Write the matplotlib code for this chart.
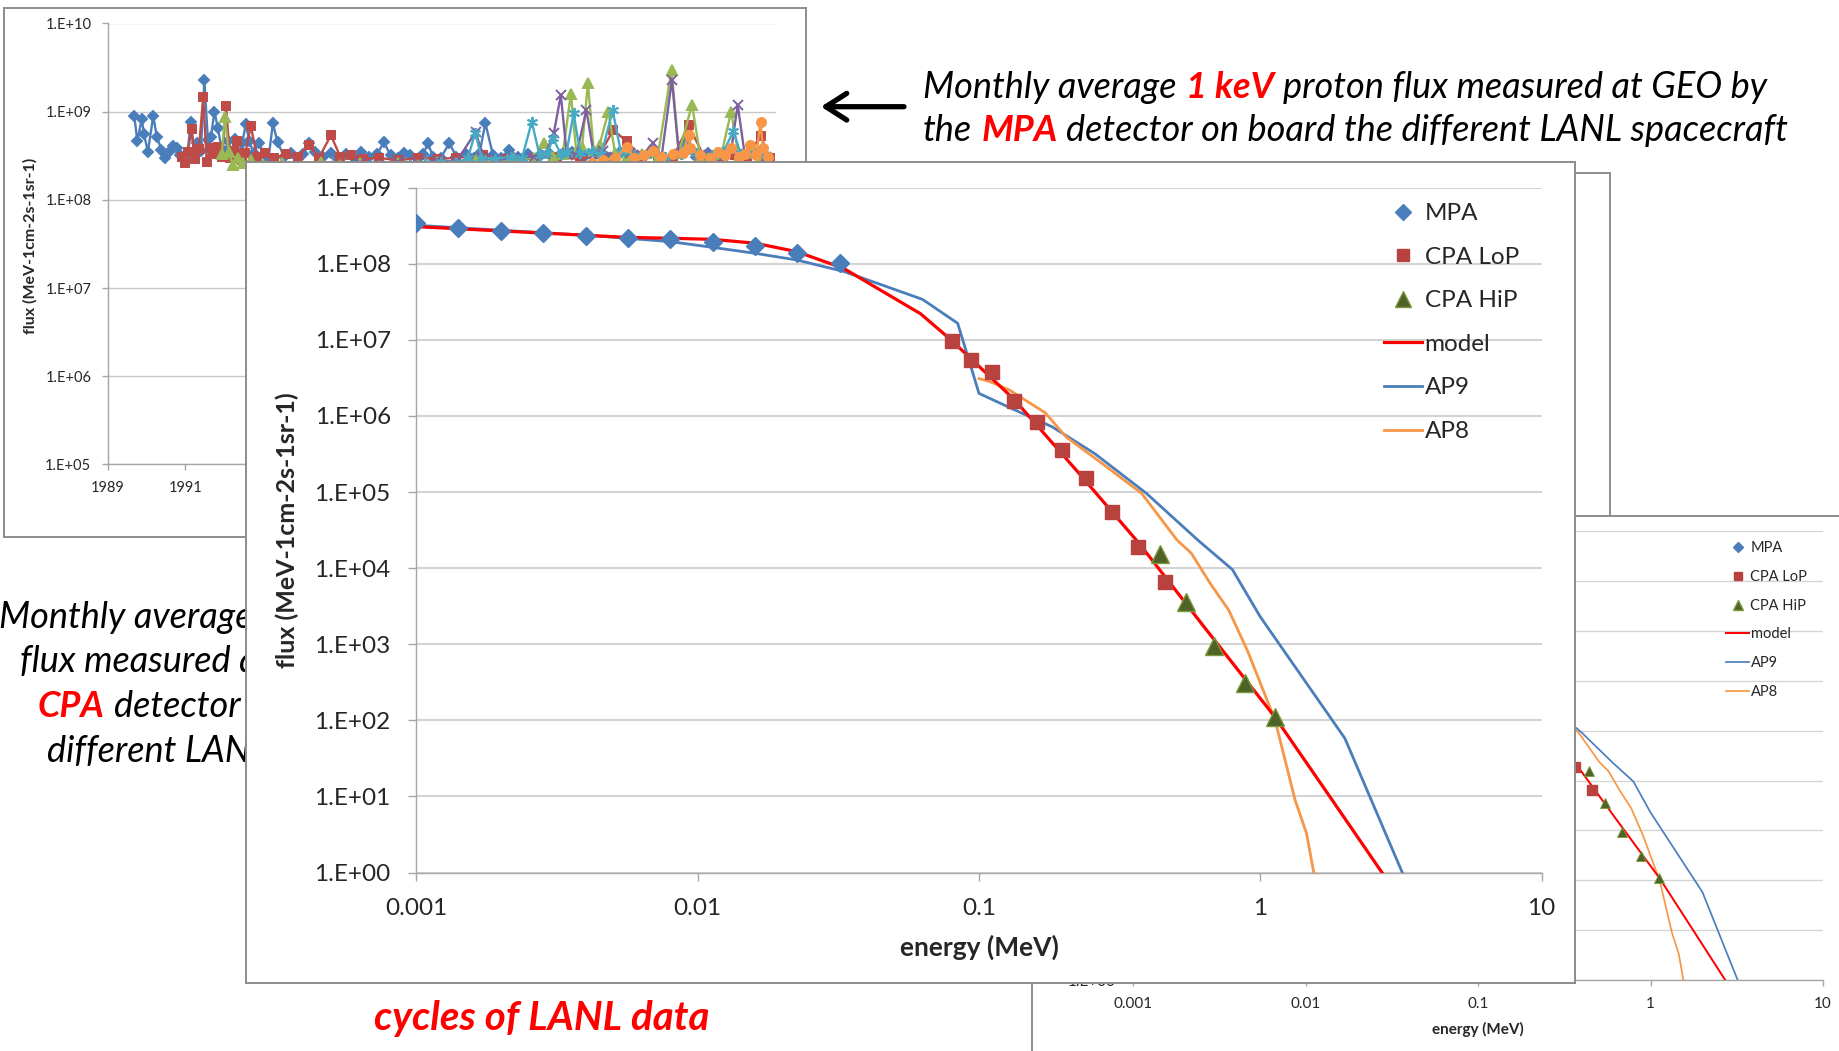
import matplotlib
matplotlib.use("Agg")
import matplotlib.pyplot as plt
from matplotlib.lines import Line2D
from matplotlib.text import Annotation
from matplotlib.ticker import NullLocator

############# CANVAS ###############
W, H = 1839, 1051
DPI = 100
OUTPUT_PATH = "out.png"
####################################

############# PALETTE ###############
BLUE = "#4A7EBB"
BROWN = "#B9413E"
OLIVE = "#4F6228"
OLIVE_EDGE = "#7A9A3A"
RED = "#FF0000"
ORANGE = "#F79646"
GRID = "#D4D4D4"
FRAME_GRAY = "#8C8C8C"
AXIS_GRAY = "#A6A6A6"
TXT = "#262626"
TS_COLORS = ["#4A7EBB", "#BE4B48", "#98B954", "#7D60A0", "#46AAC5", "#F79646"]
#####################################

# ---------------- spectrum data (energy MeV, flux) ----------------
MPA_E = [0.001, 0.00141, 0.002, 0.00283, 0.004, 0.00566, 0.008, 0.0113, 0.016, 0.0226, 0.032]
MPA_F = [3.4e8, 2.92e8, 2.69e8, 2.51e8, 2.31e8, 2.16e8, 2.11e8, 1.95e8, 1.71e8, 1.37e8, 1.01e8]

LOP_E = [0.080, 0.094, 0.111, 0.133, 0.161, 0.197, 0.240, 0.296, 0.367, 0.459]
LOP_F = [9.7e6, 5.4e6, 3.8e6, 1.58e6, 8.4e5, 3.6e5, 1.54e5, 5.4e4, 1.9e4, 6.6e3]

HIP_E = [0.441, 0.546, 0.686, 0.886, 1.127]
HIP_F = [1.53e4, 3.6e3, 946, 306, 111]

MODEL_E = [0.001, 0.0056, 0.008, 0.0113, 0.016, 0.0225, 0.033, 0.062, 0.0795,
           0.134, 0.224, 0.372, 0.631, 1.127, 1.78, 2.71]
MODEL_F = [3.07e8, 2.22e8, 2.16e8, 2.09e8, 1.86e8, 1.44e8, 8.7e7, 2.2e7, 1.0e7,
           1.62e6, 1.86e5, 2.09e4, 1.7e3, 111, 9.6, 1.0]

AP9_E = [0.001, 0.004, 0.008, 0.0113, 0.016, 0.0225, 0.0333, 0.063, 0.084, 0.0937,
         0.1, 0.134, 0.182, 0.258, 0.394, 0.603, 0.796, 1.0, 2.0, 3.2]
AP9_F = [3.2e8, 2.37e8, 1.95e8, 1.64e8, 1.37e8, 1.12e8, 7.85e7, 3.4e7, 1.65e7, 4.4e6,
         1.98e6, 1.2e6, 7.2e5, 3.2e5, 9.6e4, 2.3e4, 9.6e3, 2.3e3, 58, 1.0]

AP8_E = [0.1, 0.11, 0.128, 0.172, 0.204, 0.273, 0.379, 0.506, 0.569, 0.664,
         0.773, 0.9, 1.13, 1.33, 1.46, 1.55]
AP8_F = [3.1e6, 2.8e6, 2.2e6, 1.1e6, 5.3e5, 2.4e5, 9.6e4, 2.34e4, 1.57e4, 6.3e3,
         2.8e3, 830, 100, 9.0, 3.3, 1.0]

LEGEND_LABELS = ["MPA", "CPA LoP", "CPA HiP", "model", "AP9", "AP8"]
E_TICKS = [0.001, 0.01, 0.1, 1, 10]
E_TICK_LABELS = ["0.001", "0.01", "0.1", "1", "10"]

# ---------------- monthly 1 keV flux time series (x1e8) ----------------
S1_YEARS = [1989.68, 1989.76, 1989.87, 1989.93, 1990.03, 1990.17, 1990.26, 1990.38, 1990.47, 1990.58,
            1990.67, 1990.77, 1990.87, 1990.96, 1991.05, 1991.14, 1991.22, 1991.31, 1991.40, 1991.49,
            1991.58, 1991.66, 1991.75, 1991.84, 1991.93, 1992.02, 1992.11, 1992.20, 1992.29, 1992.38,
            1992.47, 1992.56, 1992.65, 1992.76, 1992.90, 1993.05, 1993.15, 1993.26, 1993.38, 1993.55,
            1993.72, 1993.90, 1994.05, 1994.19, 1994.35, 1994.55, 1994.75, 1994.95, 1995.15, 1995.35,
            1995.55, 1995.75, 1995.95, 1996.13, 1996.30, 1996.50, 1996.65, 1996.80, 1997.00, 1997.15,
            1997.26, 1997.40, 1997.60, 1997.82, 1998.00, 1998.25, 1998.45, 1998.60, 1998.75, 1998.95,
            1999.15, 1999.36, 1999.60, 1999.85, 2000.10, 2000.40, 2000.70, 2001.00, 2001.30, 2001.60,
            2001.90, 2002.20, 2002.50, 2002.80, 2003.10, 2003.40, 2003.70, 2003.90, 2004.20, 2004.50,
            2004.80, 2005.10, 2005.40, 2005.70, 2006.00]
S1_FLUX = [8.9, 4.6, 8.3, 5.6, 3.5, 9.0, 5.2, 3.7, 3.0, 3.5,
           4.1, 3.9, 3.2, 2.9, 3.3, 7.6, 3.4, 4.4, 3.6, 23.0,
           4.8, 5.2, 10.0, 6.5, 3.9, 3.4, 4.6, 3.3, 4.9, 3.2,
           4.4, 7.3, 4.6, 3.4, 4.4, 3.2, 3.0, 7.4, 4.5, 3.1,
           3.4, 3.0, 3.3, 4.4, 3.5, 3.1, 3.4, 2.9, 3.3, 3.0,
           3.5, 3.1, 3.3, 4.5, 3.2, 3.0, 3.4, 3.2, 2.9, 3.3,
           4.4, 3.1, 3.0, 4.4, 3.1, 3.3, 3.0, 3.4, 7.4, 3.2,
           3.0, 3.7, 3.1, 3.3, 3.0, 3.4, 3.2, 3.5, 3.1, 3.3,
           3.0, 3.4, 3.2, 3.1, 3.5, 3.0, 3.3, 4.5, 3.1, 3.4,
           3.0, 3.3, 3.1, 3.4, 3.0]

S2_YEARS = [1990.90, 1990.98, 1991.06, 1991.16, 1991.25, 1991.35, 1991.46, 1991.55, 1991.65, 1991.75,
            1991.85, 1991.95, 1992.05, 1992.15, 1992.25, 1992.33, 1992.45, 1992.55, 1992.69, 1992.85,
            1993.05, 1993.30, 1993.60, 1993.90, 1994.19, 1994.45, 1994.76, 1995.00, 1995.27, 1995.60,
            1996.00, 1996.50, 1997.00, 1997.50, 1998.00, 1998.70, 1999.30, 2000.00, 2000.60, 2001.20,
            2001.70, 2002.06, 2002.40, 2002.80, 2003.20, 2003.60, 2004.00, 2004.40, 2004.80, 2005.20,
            2005.50, 2005.86, 2006.10]
S2_FLUX = [3.1, 2.6, 3.5, 6.3, 2.9, 3.8, 14.8, 2.7, 3.9, 3.3,
           4.0, 3.1, 11.6, 3.0, 3.6, 4.6, 2.8, 3.4, 6.9, 3.1,
           3.4, 3.0, 3.3, 3.1, 4.2, 3.0, 5.4, 3.1, 3.2, 2.9,
           3.0, 2.8, 3.0, 2.9, 3.0, 3.2, 2.9, 3.0, 3.1, 2.9,
           3.3, 6.2, 4.6, 3.0, 3.1, 3.0, 7.0, 3.1, 3.0, 3.2,
           3.0, 5.3, 3.0]

S3_YEARS = [1991.94, 1992.02, 1992.12, 1992.22, 1992.35, 1992.50, 1992.70, 1993.00, 1993.50, 1994.00,
            1994.50, 1995.00, 1995.50, 1996.00, 1996.50, 1997.00, 1997.50, 1998.00, 1998.50, 1999.00,
            1999.50, 2000.00, 2000.27, 2000.50, 2000.75, 2000.96, 2001.10, 2001.25, 2001.40, 2001.55,
            2001.70, 2001.93, 2002.10, 2002.40, 2002.80, 2003.20, 2003.56, 2003.75, 2004.09, 2004.30,
            2004.60, 2004.85, 2005.10, 2005.30, 2005.60, 2005.90]
S3_FLUX = [3.3, 8.8, 3.5, 2.5, 3.0, 2.6, 2.8, 2.5, 2.6, 2.4,
           2.7, 2.5, 2.6, 2.4, 2.6, 2.5, 2.7, 2.6, 2.8, 2.7,
           2.9, 3.0, 4.4, 3.1, 3.3, 16.0, 3.5, 4.0, 21.0, 3.6,
           4.2, 10.0, 3.4, 3.1, 3.3, 3.0, 30.0, 3.4, 12.0, 3.2,
           3.0, 3.3, 10.0, 3.1, 3.4, 3.0]

S4_YEARS = [1994.90, 1995.50, 1996.00, 1996.50, 1997.00, 1997.50, 1998.00, 1998.50, 1998.70, 1999.00,
            1999.50, 2000.00, 2000.30, 2000.52, 2000.70, 2000.85, 2001.10, 2001.36, 2001.55, 2001.80,
            2002.10, 2002.50, 2002.80, 2003.09, 2003.30, 2003.57, 2003.75, 2004.00, 2004.30, 2004.60,
            2004.90, 2005.10, 2005.27, 2005.45, 2005.70, 2006.00]
S4_FLUX = [2.4, 2.6, 2.5, 2.7, 2.6, 2.8, 2.7, 5.9, 3.0, 2.8,
           3.0, 3.1, 3.3, 5.7, 15.5, 3.4, 3.2, 10.4, 3.3, 3.6,
           3.1, 3.4, 3.2, 4.4, 3.0, 23.0, 3.3, 3.5, 3.2, 3.4,
           3.1, 3.6, 12.0, 3.3, 3.5, 3.1]

S5_YEARS = [1996.80, 1997.20, 1997.60, 1998.00, 1998.30, 1998.49, 1998.65, 1999.00, 1999.40, 1999.70,
            1999.95, 2000.15, 2000.35, 2000.50, 2000.70, 2000.85, 2001.03, 2001.20, 2001.50, 2001.75,
            2002.04, 2002.25, 2002.60, 2003.00, 2003.40, 2003.80, 2004.20, 2004.60, 2004.90, 2005.16,
            2005.35, 2005.70, 2006.00]
S5_FLUX = [2.5, 2.6, 2.7, 2.6, 3.0, 5.8, 3.0, 2.9, 3.1, 3.0,
           7.7, 3.2, 3.4, 5.0, 3.3, 3.5, 9.6, 3.4, 3.6, 3.3,
           10.4, 3.5, 3.2, 3.4, 3.1, 3.3, 3.4, 3.2, 3.5, 6.0,
           3.3, 3.4, 3.2]

S6_YEARS = [2001.50, 2001.80, 2002.10, 2002.40, 2002.60, 2002.85, 2003.07, 2003.30, 2003.60, 2003.85,
            2004.00, 2004.03, 2004.30, 2004.55, 2004.77, 2004.95, 2005.10, 2005.30, 2005.45, 2005.60,
            2005.75, 2005.86, 2005.92, 2006.05]
S6_FLUX = [2.6, 2.8, 3.0, 4.0, 3.0, 3.2, 3.6, 3.1, 3.3, 3.4,
           5.5, 3.9, 3.2, 3.0, 3.5, 3.2, 3.9, 3.1, 3.3, 4.2,
           3.2, 7.7, 3.9, 3.1]

YEAR_TICKS = [1989, 1991, 1993, 1995, 1997, 1999, 2001, 2003, 2005]
YEAR_LABELS = ["1989", "1991", "", "", "", "", "", "", ""]  # the rest sit behind the front chart

plt.rcParams["font.family"] = ["Lato", "DejaVu Sans"]


def px_rect(x0, y0, x1, y1):
    return [x0 / W, 1 - y1 / H, (x1 - x0) / W, (y1 - y0) / H]


def add_frame(fig, x0, y0, x1, y1, z):
    ax = fig.add_axes(px_rect(x0, y0, x1, y1), zorder=z)
    ax.set_xticks([])
    ax.set_yticks([])
    ax.set_facecolor("white")
    for s in ax.spines.values():
        s.set_color(FRAME_GRAY)
        s.set_linewidth(1.4)
    return ax


def style_axes(ax, tick_fs, pad, tlen):
    for side in ("top", "right"):
        ax.spines[side].set_visible(False)
    for side in ("left", "bottom"):
        ax.spines[side].set_color(AXIS_GRAY)
        ax.spines[side].set_linewidth(1.0)
    ax.tick_params(axis="both", which="major", direction="out", length=tlen, width=1.0,
                   color=AXIS_GRAY, labelsize=tick_fs, labelcolor=TXT, pad=pad)
    ax.set_facecolor("none")
    ax.set_axisbelow(True)


def draw_spectrum(ax, k, tick_fs, pad, tlen, leg_fs, leg_anchor, leg_spacing, leg_hlen, label_fs, label_pos):
    ax.set_xscale("log")
    ax.set_yscale("log")

    ax.plot(MODEL_E, MODEL_F, color=RED, lw=2.3 * k, zorder=3)
    ax.plot(AP9_E, AP9_F, color=BLUE, lw=2.0 * k, zorder=2)
    ax.plot(AP8_E, AP8_F, color=ORANGE, lw=2.0 * k, zorder=2)
    ax.plot(MPA_E, MPA_F, ls="none", marker="D", ms=9.5 * k, color=BLUE, zorder=4)
    ax.plot(LOP_E, LOP_F, ls="none", marker="s", ms=10.5 * k, color=BROWN, zorder=4)
    ax.plot(HIP_E, HIP_F, ls="none", marker="^", ms=12.5 * k, mfc=OLIVE, mec=OLIVE_EDGE,
            mew=1.0 * k, zorder=4)

    ax.set_xlim(1e-3, 10)
    ax.set_ylim(1, 1e9)
    ax.set_xticks(E_TICKS, labels=E_TICK_LABELS)
    ax.set_yticks([10 ** p for p in range(10)], labels=[f"1.E+{p:02d}" for p in range(10)])
    ax.xaxis.set_minor_locator(NullLocator())
    ax.yaxis.set_minor_locator(NullLocator())
    ax.grid(True, axis="y", which="major", color=GRID, lw=1.5 * k)
    style_axes(ax, tick_fs, pad, tlen)

    handles = [
        Line2D([], [], ls="none", marker="D", ms=8.5 * k, color=BLUE),
        Line2D([], [], ls="none", marker="s", ms=9.0 * k, color=BROWN),
        Line2D([], [], ls="none", marker="^", ms=11.0 * k, mfc=OLIVE, mec=OLIVE_EDGE),
        Line2D([], [], color=RED, lw=2.3 * k),
        Line2D([], [], color=BLUE, lw=2.0 * k),
        Line2D([], [], color=ORANGE, lw=2.0 * k),
    ]
    ax.legend(handles, LEGEND_LABELS, loc="upper left",
              bbox_to_anchor=(leg_anchor[0] / W, 1 - leg_anchor[1] / H),
              bbox_transform=ax.figure.transFigure, frameon=False, borderpad=0,
              borderaxespad=0, fontsize=leg_fs, labelspacing=leg_spacing,
              handlelength=leg_hlen, handletextpad=0.1, numpoints=1,
              labelcolor=TXT)

    ax.set_xlabel("energy (MeV)", fontsize=label_fs, fontweight="bold", color=TXT, va="center")
    ax.xaxis.set_label_coords(*label_pos)


def rich_line(fig, x, y, parts, size, z=3):
    # parts: (text, color, bold, gap_before_pt)
    prev = None
    for text, color, bold, gap in parts:
        kw = dict(fontsize=size, style="italic", color=color,
                  fontweight="bold" if bold else "normal", zorder=z)
        if prev is None:
            t = fig.text(x / W, 1 - y / H, text, ha="left", va="baseline", **kw)
        else:
            t = Annotation(text, xy=(1, 0), xycoords=prev, xytext=(gap, 0),
                           textcoords="offset points", ha="left", va="bottom", **kw)
            fig.add_artist(t)
        prev = t
    return prev


fig = plt.figure(figsize=(W / DPI, H / DPI), dpi=DPI)
fig.patch.set_facecolor("white")

# ---------------- background chart 1: time series ----------------
add_frame(fig, 3.5, 8, 806, 537, 1)
ts = fig.add_axes(px_rect(108, 23.5, 776, 464.4), zorder=1.5)
ts.set_yscale("log")
series = [
    (S1_YEARS, S1_FLUX, "D", 5.5),
    (S2_YEARS, S2_FLUX, "s", 5.5),
    (S3_YEARS, S3_FLUX, "^", 6.5),
    (S4_YEARS, S4_FLUX, "x", 6.5),
    (S5_YEARS, S5_FLUX, (6, 2, 0), 8.0),
    (S6_YEARS, S6_FLUX, "o", 6.5),
]
for (yrs, vals, mk, ms), col in zip(series, TS_COLORS):
    ts.plot(yrs, [v * 1e8 for v in vals], color=col, lw=1.7, marker=mk, ms=ms,
            mew=1.4, clip_on=True)
ts.set_xlim(1989, 2006.26)
ts.set_ylim(1e5, 1e10)
ts.set_xticks(YEAR_TICKS, labels=YEAR_LABELS)
ts.set_yticks([10 ** p for p in range(5, 11)], labels=[f"1.E+{p:02d}" for p in range(5, 11)])
ts.yaxis.set_minor_locator(NullLocator())
ts.grid(True, axis="y", which="major", color="#C8C8C8", lw=1.0)
style_axes(ts, 10.5, 8, 4)
ts.set_ylabel("flux (MeV-1cm-2s-1sr-1)", fontsize=11.5, fontweight="bold", color=TXT, va="center")
ts.yaxis.set_label_coords(-0.117, 0.495)

# ---------------- background chart 2: empty box behind ----------------
add_frame(fig, 700, 172.7, 1610, 800, 2)

# ---------------- background chart 3: small copy of spectrum ----------------
add_frame(fig, 1032, 516, 1870, 1080, 3)
rs = fig.add_axes(px_rect(1133, 531.4, 1823, 980), zorder=3.5)
draw_spectrum(rs, 0.62, 11, 8.5, 4, 10.5, (1726, 541.3), 1.01, 1.58, 11,
              ((1477.7 - 1133) / (1823 - 1133), -(1029.7 - 980) / (980 - 531.4)))

# ---------------- front chart: spectrum ----------------
add_frame(fig, 246, 162, 1575, 983, 10)
ms_ax = fig.add_axes(px_rect(416.4, 187.6, 1541.5, 872.6), zorder=11)
draw_spectrum(ms_ax, 1.0, 17.5, 12.5, 6, 17.5, (1384, 203.0), 0.93, 1.57, 19,
              (0.5, -(947.6 - 872.6) / (872.6 - 187.6)))
ms_ax.set_ylabel("flux (MeV-1cm-2s-1sr-1)", fontsize=18, fontweight="bold", color=TXT, va="center")
ms_ax.yaxis.set_label_coords((287 - 416.4) / (1541.5 - 416.4), 0.5)

# ---------------- slide text ----------------
TEXT_FS = 26
rich_line(fig, 923, 97.5, [("Monthly average", "black", False, 0),
                           ("1 keV", "#FF0000", True, 6.5),
                           ("proton flux measured at GEO by", "black", False, 6.5)], TEXT_FS)
rich_line(fig, 923, 141, [("the", "black", False, 0),
                          ("MPA", "#FF0000", True, 6.5),
                          ("detector on board the different LANL spacecraft", "black", False, 6.5)], TEXT_FS)

fig.add_artist(Annotation("", xy=(821 / W, 1 - 106.7 / H), xycoords="figure fraction",
                          xytext=(904 / W, 1 - 106.7 / H), textcoords="figure fraction",
                          arrowprops=dict(arrowstyle="->,head_length=0.5,head_width=0.32",
                                          color="black", lw=3.8, mutation_scale=30,
                                          shrinkA=0, shrinkB=0)))

# caption on the left, mostly hidden behind the front chart
rich_line(fig, -1, 628, [("Monthly average", "black", False, 0)], TEXT_FS)
rich_line(fig, 20, 672, [("flux measured a", "black", False, 0)], TEXT_FS)
rich_line(fig, 38, 717, [("CPA", "#FF0000", True, 0),
                         ("detector o", "black", False, 6.5)], TEXT_FS)
rich_line(fig, 47, 762, [("different LAN", "black", False, 0)], TEXT_FS)
rich_line(fig, 374, 1030, [("cycles of LANL data", "#FF0000", True, 0)], 29)

fig.savefig(OUTPUT_PATH, dpi=DPI)
